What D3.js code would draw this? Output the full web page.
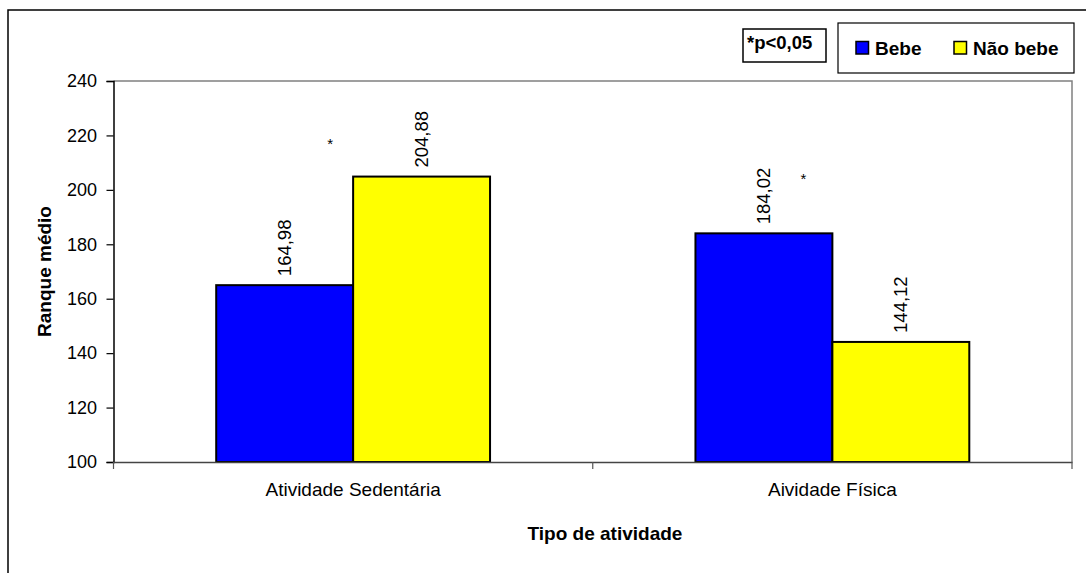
<!DOCTYPE html>
<html><head><meta charset="utf-8">
<script src="https://cdn.jsdelivr.net/npm/d3@7"></script>
<style>
html,body{margin:0;padding:0;background:#fff;}
svg{display:block;font-family:Arial,"Liberation Sans",sans-serif;}
</style></head>
<body><svg id="chart" width="1086" height="573"></svg>
<script>
const categories = ["Atividade Sedentária", "Aividade Física"];
const seriesNames = ["Bebe", "Não bebe"];
const bebe = [164.98, 184.02];
const naoBebe = [204.88, 144.12];
const yTicks = [100, 120, 140, 160, 180, 200, 220, 240];
const labels = [["164,98", "184,02"], ["204,88", "144,12"]];
// significance markers: [category index, value position]
const sigMarks = [[0, 218], [1, 205]];
const colors = ["#0000FF", "#FFFF00"];

const svg = d3.select("#chart");
const W = 1086, H = 573;
const plot = {left: 113.5, top: 81, right: 1072, bottom: 462};

// outer chart border
svg.append("rect").attr("x", 8).attr("y", 10).attr("width", W + 20).attr("height", H + 20)
  .attr("fill", "#fff").attr("stroke", "#000").attr("stroke-width", 1.5);

const x0 = d3.scaleBand().domain(categories).range([plot.left, plot.right]).paddingInner(0).paddingOuter(0);
const y = d3.scaleLinear().domain([100, 240]).range([plot.bottom, plot.top]);
const groupW = x0.bandwidth() * 0.5714;
const x1 = d3.scaleBand().domain(seriesNames).range([0, groupW]);

// plot area border (gray top/right)
svg.append("path")
  .attr("d", `M${plot.left},${plot.top}H${plot.right}V${plot.bottom}`)
  .attr("fill", "none").attr("stroke", "#808080").attr("stroke-width", 1.5);

const data = categories.map((c, i) => ({cat: c, vals: [bebe[i], naoBebe[i]]}));

const g = svg.append("g");
data.forEach((d, i) => {
  const gx = x0(d.cat) + (x0.bandwidth() - groupW) / 2;
  d.vals.forEach((v, s) => {
    const bx = gx + x1(seriesNames[s]);
    g.append("rect")
      .attr("x", bx).attr("y", y(v))
      .attr("width", x1.bandwidth()).attr("height", y(100) - y(v))
      .attr("fill", colors[s]).attr("stroke", "#000").attr("stroke-width", 2);
    const cx = bx + x1.bandwidth() / 2;
    g.append("text")
      .attr("transform", `translate(${cx},${y(v) - 9}) rotate(-90)`)
      .attr("dy", "0.35em").attr("text-anchor", "start")
      .attr("font-size", 18.5).attr("fill", "#000")
      .text(labels[s][i]);
  });
});

// significance asterisks
sigMarks.forEach(([ci, v]) => {
  const cx = x0(categories[ci]) + x0.bandwidth() / 2 - (ci === 0 ? 23 : 29);
  svg.append("text").attr("x", cx).attr("y", y(v) + 8)
    .attr("text-anchor", "middle").attr("font-size", 15).text("*");
});

// y axis
const yAxis = d3.axisLeft(y).tickValues(yTicks).tickSize(7).tickPadding(9.5).tickFormat(d3.format("d"));
const ya = svg.append("g").attr("transform", `translate(${plot.left},0)`).call(yAxis);
ya.select(".domain").attr("stroke", "#000").attr("stroke-width", 1.5);
ya.selectAll(".tick line").attr("stroke", "#000").attr("stroke-width", 1.2);
ya.selectAll(".tick text").attr("font-size", 18).attr("font-family", "Arial,'Liberation Sans',sans-serif").attr("fill", "#000");

// x axis
const xa = svg.append("g").attr("transform", `translate(0,${plot.bottom})`)
  .call(d3.axisBottom(x0).tickSize(0).tickPadding(21));
xa.select(".domain").attr("stroke", "#444").attr("stroke-width", 1.5);
xa.selectAll(".tick text").attr("font-size", 19).attr("font-family", "Arial,'Liberation Sans',sans-serif").attr("fill", "#000");
// category separator ticks
const sepTicks = [plot.left, (plot.left + plot.right) / 2, plot.right];
svg.append("g").selectAll("line").data(sepTicks).join("line")
  .attr("x1", d => d).attr("x2", d => d).attr("y1", plot.bottom).attr("y2", plot.bottom + 7)
  .attr("stroke", "#555").attr("stroke-width", 1.2);

// axis titles
svg.append("text").attr("transform", `translate(51,${(plot.top + plot.bottom) / 2}) rotate(-90)`)
  .attr("text-anchor", "middle").attr("font-size", 19).attr("font-weight", "bold").text("Ranque médio");
svg.append("text").attr("x", 605).attr("y", 540).attr("text-anchor", "middle")
  .attr("font-size", 19).attr("font-weight", "bold").text("Tipo de atividade");

// p-value note
svg.append("rect").attr("x", 743).attr("y", 29).attr("width", 83).attr("height", 33)
  .attr("fill", "#fff").attr("stroke", "#000").attr("stroke-width", 1.5);
svg.append("text").attr("x", 747).attr("y", 49).attr("font-size", 18.5).attr("font-weight", "bold")
  .text("*p<0,05");

// legend
svg.append("rect").attr("x", 838).attr("y", 23).attr("width", 236).attr("height", 50)
  .attr("fill", "#fff").attr("stroke", "#000").attr("stroke-width", 1.2);
const legX = [856, 954];
seriesNames.forEach((s, i) => {
  svg.append("rect").attr("x", legX[i]).attr("y", 41.5).attr("width", 12.5).attr("height", 12.5)
    .attr("fill", colors[i]).attr("stroke", "#000").attr("stroke-width", 1.5);
  svg.append("text").attr("x", legX[i] + 19).attr("y", 54.5).attr("font-size", 19)
    .attr("font-weight", "bold").text(s);
});
</script></body></html>
